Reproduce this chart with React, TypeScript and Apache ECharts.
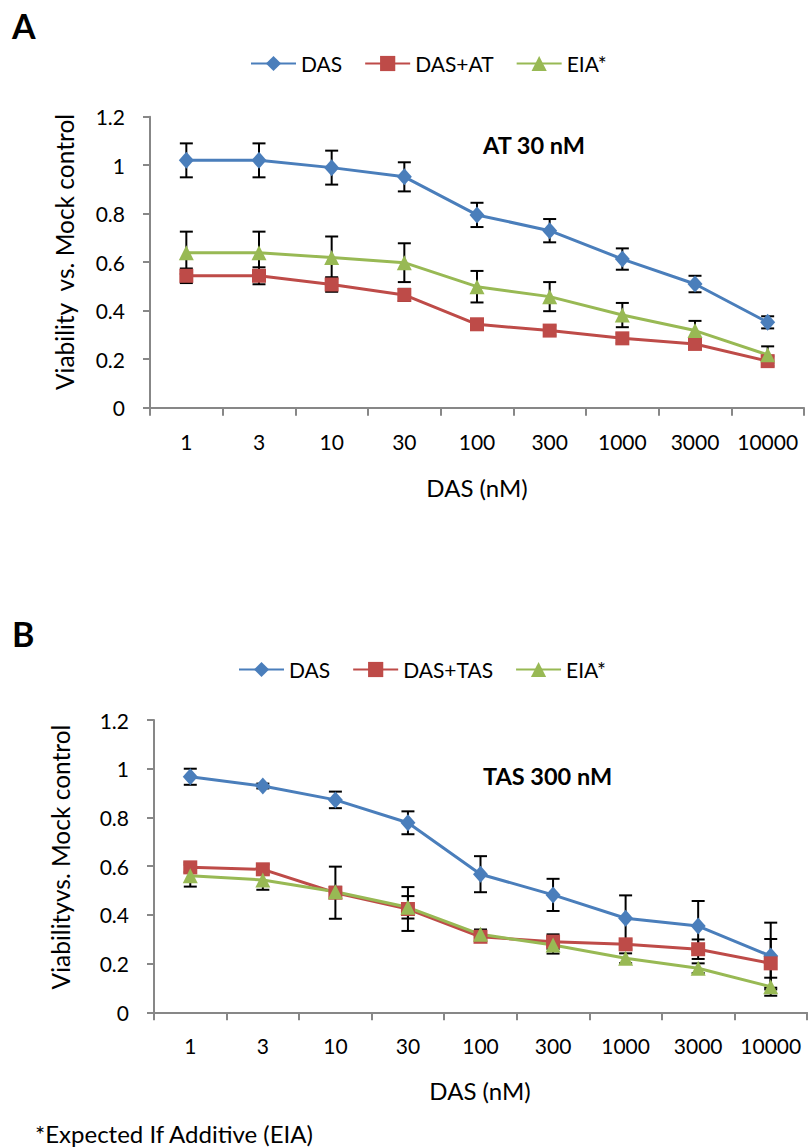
import React, { useEffect, useRef } from "react";
import * as echarts from "echarts";

const categories = ["1", "3", "10", "30", "100", "300", "1000", "3000", "10000"];
const yTicks = [0, 0.2, 0.4, 0.6, 0.8, 1, 1.2];

// Panel A (AT 30 nM)
const dasA = [1.02, 1.02, 0.99, 0.952, 0.795, 0.73, 0.613, 0.51, 0.352];
const dasAErr = [0.07, 0.07, 0.07, 0.06, 0.05, 0.048, 0.044, 0.034, 0.025];
const dasAtA = [0.544, 0.544, 0.508, 0.465, 0.344, 0.318, 0.286, 0.263, 0.192];
const dasAtAErr = [0.03, 0.035, 0.03, 0.025, 0.02, 0.02, 0.02, 0.02, 0.02];
const eiaA = [0.639, 0.639, 0.619, 0.598, 0.499, 0.458, 0.382, 0.318, 0.218];
const eiaAErr = [0.087, 0.087, 0.087, 0.08, 0.065, 0.06, 0.05, 0.04, 0.035];

// Panel B (TAS 300 nM)
const dasB = [0.967, 0.929, 0.872, 0.778, 0.567, 0.482, 0.386, 0.354, 0.231];
const dasBErr = [0.033, 0.01, 0.034, 0.047, 0.074, 0.066, 0.094, 0.103, 0.137];
const dasTasB = [0.595, 0.587, 0.491, 0.424, 0.31, 0.29, 0.279, 0.259, 0.201];
const dasTasBErr = [0.02, 0.02, 0.107, 0.09, 0.02, 0.03, 0.02, 0.04, 0.1];
const eiaB = [0.561, 0.543, 0.495, 0.431, 0.32, 0.276, 0.222, 0.181, 0.105];
const eiaBErr = [0.045, 0.04, 0.02, 0.046, 0.02, 0.035, 0.02, 0.02, 0.037];

const FONT = "Lato";
const BLUE = "#4A7EBB";
const RED = "#BE4B48";
const GREEN = "#98B954";
const AXIS = "#878787";

function lineSeries(name: string, data: number[], color: string, symbol: string, size: any, idx: number) {
  return {
    name,
    type: "line",
    xAxisIndex: idx,
    yAxisIndex: idx,
    data,
    symbol,
    symbolSize: size,
    z: 3,
    lineStyle: { color, width: 3 },
    itemStyle: { color },
    emphasis: { disabled: true },
  };
}

function errSeries(vals: number[], errs: number[], idx: number) {
  return {
    type: "custom",
    xAxisIndex: idx,
    yAxisIndex: idx,
    z: 2,
    silent: true,
    encode: { x: 0, y: 1 },
    data: vals.map((v, i) => [i, v, errs[i]]),
    renderItem: (params: any, api: any) => {
      const i = api.value(0);
      const v = api.value(1);
      const e = api.value(2);
      const top = api.coord([i, v + e]);
      const bot = api.coord([i, v - e]);
      const w = 6.5;
      const st = { stroke: "#000", lineWidth: 2 };
      return {
        type: "group",
        children: [
          { type: "line", shape: { x1: top[0], y1: top[1], x2: bot[0], y2: bot[1] }, style: st },
          { type: "line", shape: { x1: top[0] - w, y1: top[1], x2: top[0] + w, y2: top[1] }, style: st },
          { type: "line", shape: { x1: bot[0] - w, y1: bot[1], x2: bot[0] + w, y2: bot[1] }, style: st },
        ],
      };
    },
  };
}

function xAxis(idx: number) {
  return {
    type: "category",
    gridIndex: idx,
    data: categories,
    boundaryGap: true,
    axisLine: { lineStyle: { color: AXIS, width: 2 } },
    axisTick: { show: true, length: 8, lineStyle: { color: AXIS, width: 2 } },
    axisLabel: { color: "#000", fontSize: 21, fontFamily: FONT, margin: 23, interval: 0 },
    splitLine: { show: false },
  };
}

function yAxis(idx: number) {
  return {
    type: "value",
    gridIndex: idx,
    min: yTicks[0],
    max: yTicks[yTicks.length - 1],
    interval: 0.2,
    axisLine: { show: true, lineStyle: { color: AXIS, width: 2 } },
    axisTick: { show: true, length: 7, lineStyle: { color: AXIS, width: 2 } },
    axisLabel: { color: "#000", fontSize: 21, fontFamily: FONT, margin: 25 },
    splitLine: { show: false },
  };
}

export default function App() {
  const ref = useRef<HTMLDivElement>(null);
  useEffect(() => {
    if (!ref.current) return;
    const chart = echarts.init(ref.current, null, { renderer: "svg" });
    const legendBase = {
      orient: "horizontal",
      itemWidth: 45,
      itemHeight: 19,
      itemGap: 22,
      textStyle: { fontSize: 21, fontFamily: FONT, color: "#000" },
      selectedMode: false,
    };
    const option: any = {
      animation: false,
      textStyle: { fontFamily: FONT },
      grid: [
        { left: 150, top: 116.7, width: 654, height: 291 },
        { left: 154, top: 720, width: 653, height: 292.3 },
      ],
      legend: [
        { ...legendBase, left: 245, top: 48, data: ["DAS", "DAS+AT", "EIA*"] },
        { ...legendBase, left: 233, top: 654, data: ["DAS", "DAS+TAS", "EIA*"] },
      ],
      xAxis: [xAxis(0), xAxis(1)],
      yAxis: [yAxis(0), yAxis(1)],
      series: [
        lineSeries("DAS", dasA, BLUE, "diamond", [15, 17], 0),
        lineSeries("DAS+AT", dasAtA, RED, "rect", 14, 0),
        lineSeries("EIA*", eiaA, GREEN, "triangle", 15, 0),
        lineSeries("DAS", dasB, BLUE, "diamond", [15, 17], 1),
        lineSeries("DAS+TAS", dasTasB, RED, "rect", 14, 1),
        lineSeries("EIA*", eiaB, GREEN, "triangle", 15, 1),
        errSeries(dasA, dasAErr, 0),
        errSeries(dasAtA, dasAtAErr, 0),
        errSeries(eiaA, eiaAErr, 0),
        errSeries(dasB, dasBErr, 1),
        errSeries(dasTasB, dasTasBErr, 1),
        errSeries(eiaB, eiaBErr, 1),
      ],
      graphic: [
        { type: "text", left: 12, top: 8, style: { text: "A", fontSize: 34, fontWeight: "bold", fontFamily: FONT, fill: "#000" } },
        { type: "text", left: 12, top: 616, style: { text: "B", fontSize: 34, fontWeight: "bold", fontFamily: FONT, fill: "#000" } },
        { type: "text", x: 483, y: 145, style: { text: "AT 30 nM", fontSize: 23.5, fontWeight: "bold", fontFamily: FONT, fill: "#000", verticalAlign: "middle" } },
        { type: "text", x: 483, y: 776, style: { text: "TAS 300 nM", fontSize: 23.5, fontWeight: "bold", fontFamily: FONT, fill: "#000", verticalAlign: "middle" } },
        { type: "text", x: 64, y: 252, rotation: Math.PI / 2, style: { text: "Viability  vs. Mock control", fontSize: 24.5, fontFamily: FONT, fill: "#000", align: "center", verticalAlign: "middle" } },
        { type: "text", x: 60, y: 857, rotation: Math.PI / 2, style: { text: "Viabilityvs. Mock control", fontSize: 24.5, fontFamily: FONT, fill: "#000", align: "center", verticalAlign: "middle" } },
        { type: "text", x: 477, y: 487, style: { text: "DAS (nM)", fontSize: 24, fontFamily: FONT, fill: "#000", align: "center", verticalAlign: "middle" } },
        { type: "text", x: 480, y: 1090, style: { text: "DAS (nM)", fontSize: 24, fontFamily: FONT, fill: "#000", align: "center", verticalAlign: "middle" } },
        { type: "text", x: 35, y: 1133, style: { text: "*Expected If Additive (EIA)", fontSize: 24, fontFamily: FONT, fill: "#000", verticalAlign: "middle" } },
      ],
    };
    chart.setOption(option);
    return () => chart.dispose();
  }, []);
  return <div ref={ref} style={{ position: "absolute", left: 0, top: 0, width: 810, height: 1147 }} />;
}
